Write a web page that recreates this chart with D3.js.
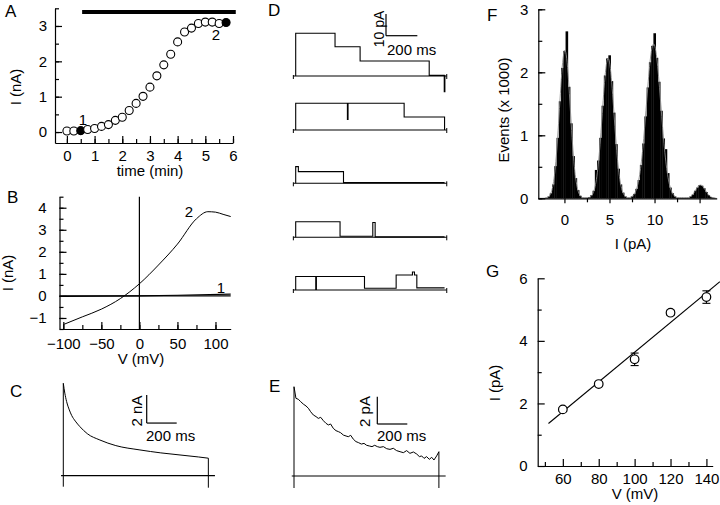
<!DOCTYPE html>
<html>
<head>
<meta charset="utf-8">
<script src="https://cdn.jsdelivr.net/npm/d3@7"></script>
<style>
  body { margin: 0; background: #fff; }
  text { font-family: "Liberation Sans", Arial, sans-serif; fill: #000; }
</style>
</head>
<body>
<script>
// ---- data ----
// A: current vs time during the run
const aTime = [0, 0.25, 0.5, 0.75, 1, 1.25, 1.5, 1.75, 2, 2.25, 2.5, 2.75, 3, 3.25, 3.5, 3.75, 4, 4.25, 4.5, 4.75, 5, 5.25, 5.5, 5.75];
const aCurrent = [0.03, 0.03, 0.04, 0.07, 0.10, 0.16, 0.21, 0.33, 0.42, 0.61, 0.81, 1.01, 1.27, 1.59, 1.90, 2.20, 2.55, 2.83, 2.94, 3.07, 3.11, 3.11, 3.07, 3.10];
const aFilled = [0.5, 5.75];
const aBar = [0.55, 6.1];

// B: I-V curves 1 and 2
const bV2 = [-100, -75, -50, -25, 0, 25, 50, 75, 90, 100, 110, 120];
const bI2 = [-1.3, -0.95, -0.6, -0.12, 0.55, 1.4, 2.35, 3.5, 3.82, 3.8, 3.7, 3.6];
const bV1 = [-100, 0, 50, 120];
const bI1 = [-0.02, 0.0, 0.03, 0.08];

// C: whole-cell current decay (ms, nA)
const cTime = [0, 10, 22, 40, 56, 80, 111, 160, 244, 350, 511, 650, 778, 900, 967];
const cCurrent = [6.6, 5.9, 5.3, 4.7, 4.3, 3.9, 3.5, 3.0, 2.55, 2.15, 1.84, 1.63, 1.48, 1.34, 1.25];

// D: single-channel sweeps (step times in ms, level in pA)
const dSweepTimes = [
  [0, 0, 251, 411, 852, 948, 952],
  [0, 0, 330, 334, 692, 950],
  [0, 0, 17, 305, 950],
  [0, 0, 283, 492, 507, 950],
  [0, 0, 128, 132, 439, 641, 745, 758, 773, 950]
];
const dSweepLevels = [
  [0, 19.7, 13.5, 6.9, 0.3, -7.2, 0.3],
  [0, 12.3, 4.9, 12.3, 6.0, 0],
  [0, 7.7, 5.4, 0.3, 0.3],
  [0, 7.2, 0.5, 6.8, 0.2, 0.2],
  [0, 6.2, 0.3, 6.2, 0.8, 6.9, 8.3, 6.9, 1.0, 1.0]
];

// E: ensemble average (ms, pA)
const eTime = [0, 13, 29, 44, 62, 80, 96, 111, 129, 147, 162, 178, 196, 213, 229, 244, 262, 280, 296, 311, 329, 347, 362, 378, 396, 413, 431, 449, 467, 484, 502, 520, 538, 556, 573, 596, 618, 640, 662, 684, 707, 729, 751, 773, 796, 818, 836, 851, 867, 884, 902, 918, 933, 951, 966];
const eCurrent = [6.54, 5.69, 5.62, 5.45, 5.27, 5.13, 4.96, 4.71, 4.47, 4.35, 4.22, 4.30, 4.05, 3.86, 3.74, 3.81, 3.49, 3.32, 3.25, 3.17, 3.00, 2.93, 2.88, 2.98, 2.69, 2.52, 2.44, 2.34, 2.39, 2.25, 2.20, 2.15, 2.25, 2.15, 2.10, 2.15, 2.00, 1.95, 2.03, 1.86, 1.78, 1.71, 1.86, 1.66, 1.76, 1.61, 1.42, 1.47, 1.29, 1.42, 1.22, 1.37, 1.17, 1.47, 1.78];

// F: amplitude histogram, 0.25 pA bins starting at -2 pA (events x 1000)
const fBinStart = -2;
const fBinWidth = 0.25;
const fCounts = [0.01, 0.03, 0.08, 0.22, 0.51, 0.96, 1.54, 2.07, 2.34, 2.65, 1.77, 1.19, 0.67, 0.32, 0.13, 0.04,
  0.01, 0.01, 0.01, 0.02, 0.05, 0.12, 0.45, 0.60, 0.96, 1.47, 1.95, 2.22, 2.27, 1.86, 1.36, 0.86, 0.47, 0.22, 0.09, 0.03,
  0.01, 0.01, 0.03, 0.07, 0.15, 0.29, 0.53, 0.87, 1.30, 1.76, 2.16, 2.42, 2.62, 2.23, 1.85, 1.39, 0.95, 0.78, 0.40, 0.17, 0.08, 0.03,
  0.01, 0.01, 0.01, 0.01, 0.01, 0.01, 0.03, 0.06, 0.12, 0.17, 0.21, 0.20, 0.16, 0.10, 0.05, 0.02, 0.01];
// Gaussian fit parameters
const fFitAmp = [2.35, 2.22, 2.45, 0.21];
const fFitMean = [0.05, 4.85, 9.9, 15.1];
const fFitSigma = [0.6, 0.65, 0.8, 0.55];

// G: unitary current vs voltage
const gV = [60, 80, 100, 120, 140];
const gI = [1.81, 2.62, 3.41, 4.9, 5.4];
const gErr = [0.05, 0.06, 0.2, 0.08, 0.2];
const gFitV = [52, 147.5];
const gFitI = [1.36, 5.89];

// ---- drawing ----
const svg = d3.select("body").append("svg")
  .attr("width", 720).attr("height", 505)
  .style("background", "#fff");

const TICK_FS = 15;
const fmt = d3.format("d");

function tidy(g) {
  g.attr("font-family", null).attr("font-size", null);
  g.selectAll("path, line").attr("stroke", "#000").attr("stroke-width", 1.2);
  g.selectAll("text").attr("font-size", TICK_FS);
}

function yAxis(x0, y, major, minor, pad) {
  const gm = svg.append("g").attr("transform", `translate(${x0},0)`)
    .call(d3.axisLeft(y).tickValues(minor).tickSizeInner(-4).tickSizeOuter(0).tickFormat(""));
  gm.select(".domain").remove();
  tidy(gm);
  const g = svg.append("g").attr("transform", `translate(${x0},0)`)
    .call(d3.axisLeft(y).tickValues(major).tickSizeInner(-7).tickSizeOuter(0).tickPadding(pad).tickFormat(fmt));
  tidy(g);
}

function xAxis(y0, x, major, minor, pad, inner) {
  const gm = svg.append("g").attr("transform", `translate(0,${y0})`)
    .call(d3.axisBottom(x).tickValues(minor).tickSizeInner(inner ? -4 : 4).tickSizeOuter(0).tickFormat(""));
  gm.select(".domain").remove();
  tidy(gm);
  const g = svg.append("g").attr("transform", `translate(0,${y0})`)
    .call(d3.axisBottom(x).tickValues(major).tickSizeInner(inner ? -7 : 5).tickSizeOuter(0).tickPadding(pad).tickFormat(fmt));
  tidy(g);
}

function label(x, y, txt, size, anchor, rot) {
  const t = svg.append("text").attr("font-size", size).attr("text-anchor", anchor || "middle").text(txt);
  if (rot) t.attr("transform", `translate(${x},${y}) rotate(-90)`);
  else t.attr("x", x).attr("y", y);
  return t;
}

function seg(x1, y1, x2, y2, w) {
  svg.append("line").attr("x1", x1).attr("y1", y1).attr("x2", x2).attr("y2", y2)
    .attr("stroke", "#000").attr("stroke-width", w || 1);
}

// panel letters
[["A", 5, 17], ["B", 7, 203], ["C", 10, 397], ["D", 268, 16], ["E", 269, 392], ["F", 487, 21], ["G", 486, 277]]
  .forEach(d => label(d[1], d[2], d[0], 17, "start"));

// ---------- A ----------
const ax = d3.scaleLinear().domain([-0.43, 6]).range([55, 233]);
const ay = d3.scaleLinear().domain([-0.31, 3.5]).range([143, 8.3]);
yAxis(55, ay, [0, 1, 2, 3], d3.range(0, 3.51, 0.5), 8);
xAxis(143, ax, [0, 1, 2, 3, 4, 5, 6], d3.range(0, 6.01, 0.5), 7, true);
label(21, 87, "I (nA)", 15, "middle", true);
label(150, 176, "time (min)", 15);
svg.append("rect")
  .attr("x", ax(aBar[0])).attr("width", ax(aBar[1]) - ax(aBar[0]))
  .attr("y", 10).attr("height", 4).attr("fill", "#000");
svg.append("g").selectAll("circle")
  .data(aTime.map((t, i) => [t, aCurrent[i]]))
  .enter().append("circle")
  .attr("cx", d => ax(d[0])).attr("cy", d => ay(d[1])).attr("r", 4)
  .attr("fill", d => aFilled.includes(d[0]) ? "#000" : "#fff")
  .attr("stroke", "#000").attr("stroke-width", 1.1);
label(83, 125, "1", 15);
label(216, 40, "2", 15);

// ---------- B ----------
const bx = d3.scaleLinear().domain([-105, 120]).range([59.5, 230.7]);
const by = d3.scaleLinear().domain([-1.5, 4.5]).range([329, 196.7]);
yAxis(59.5, by, [-1, 0, 1, 2, 3, 4], d3.range(-1.5, 4.51, 0.5), 13);
xAxis(329, bx, [-100, -50, 0, 50, 100], d3.range(-100, 101, 25), 9, true);
seg(bx(0), by(4.5), bx(0), by(-1.5), 1.2);
seg(bx(-105), by(0), bx(120), by(0), 1.2);
const bLine = d3.line().x(d => bx(d[0])).y(d => by(d[1])).curve(d3.curveMonotoneX);
svg.append("path").attr("d", bLine(bV2.map((v, i) => [v, bI2[i]])))
  .attr("fill", "none").attr("stroke", "#000").attr("stroke-width", 1);
svg.append("path").attr("d", bLine(bV1.map((v, i) => [v, bI1[i]])))
  .attr("fill", "none").attr("stroke", "#000").attr("stroke-width", 1.2);
label(13, 273, "I (nA)", 15, "middle", true);
label(141, 364, "V (mV)", 15);
label(189, 217, "2", 15);
label(221, 293, "1", 15);

// ---------- C ----------
const cx = d3.scaleLinear().domain([0, 1000]).range([63.3, 213.3]);
const cy = d3.scaleLinear().domain([0, 7]).range([475.7, 377.7]);
seg(cx(-15), cy(0), cx(1011), cy(0), 1.2);
svg.append("path")
  .attr("d", d3.line().x(d => cx(d[0])).y(d => cy(d[1])).curve(d3.curveMonotoneX)(cTime.map((t, i) => [t, cCurrent[i]])))
  .attr("fill", "none").attr("stroke", "#000").attr("stroke-width", 1);
seg(cx(0), cy(0) + 11, cx(0), cy(cCurrent[0]), 1);
seg(cx(cTime[cTime.length - 1]), cy(cCurrent[cCurrent.length - 1]), cx(cTime[cTime.length - 1]), cy(0) + 12, 1);
// scale bar 2 nA / 200 ms
seg(cx(556), cy(5.76), cx(556), cy(3.76), 1.2);
seg(cx(556), cy(3.76), cx(756), cy(3.76), 1.2);
label(141.5, 411, "2 nA", 15, "middle", true);
label(146, 441, "200 ms", 15, "start");

// ---------- D ----------
const dx = d3.scaleLinear().domain([0, 1000]).range([295.7, 452.4]);
const dBase = [76, 130, 183.3, 237.3, 290];
const dPxPerPA = 2.17;
dSweepTimes.forEach((times, k) => {
  const yk = v => dBase[k] - v * dPxPerPA;
  seg(dx(-15), dBase[k], dx(964), dBase[k], 1.1);
  seg(dx(-15), dBase[k] - 1, dx(-15), dBase[k] + 3, 1);
  seg(dx(964), dBase[k] - 2, dx(964), dBase[k] + 3, 1);
  svg.append("path")
    .attr("d", d3.line().x(d => dx(d[0])).y(d => yk(d[1])).curve(d3.curveStepAfter)(times.map((t, i) => [t, dSweepLevels[k][i]])))
    .attr("fill", "none").attr("stroke", "#000").attr("stroke-width", 1.1);
});
// scale bar 10 pA / 200 ms
seg(386, 35.7 - 10 * dPxPerPA, 386, 35.7, 1.2);
seg(386, 35.7, 386 + dx(200) - dx(0), 35.7, 1.2);
label(384, 29, "10 pA", 14, "middle", true);
label(387, 55, "200 ms", 15, "start");

// ---------- E ----------
const ex = d3.scaleLinear().domain([0, 1000]).range([294, 444]);
const ey = d3.scaleLinear().domain([0, 7]).range([476, 380.45]);
seg(ex(-15), ey(0), ex(1011), ey(0), 1.2);
svg.append("path")
  .attr("d", d3.line().x(d => ex(d[0])).y(d => ey(d[1]))(eTime.map((t, i) => [t, eCurrent[i]])))
  .attr("fill", "none").attr("stroke", "#000").attr("stroke-width", 1);
seg(ex(0), ey(0) + 12, ex(0), ey(eCurrent[0]), 1);
seg(ex(eTime[eTime.length - 1]), ey(eCurrent[eCurrent.length - 1]), ex(eTime[eTime.length - 1]), ey(0) + 12, 1);
// scale bar 2 pA / 200 ms
seg(377.3, 424 - (ey(0) - ey(2)), 377.3, 424, 1.2);
seg(377.3, 424, 377.3 + ex(200) - ex(0), 424, 1.2);
label(370, 411.5, "2 pA", 15, "middle", true);
label(377, 441, "200 ms", 15, "start");

// ---------- F ----------
const fx = d3.scaleLinear().domain([-2.9, 16.9]).range([538.3, 716.7]);
const fy = d3.scaleLinear().domain([0, 3]).range([198.3, 9.3]);
svg.append("g").selectAll("rect")
  .data(fCounts.map((c, i) => [fBinStart + i * fBinWidth, c]))
  .enter().append("rect")
  .attr("x", d => fx(d[0] - fBinWidth / 2))
  .attr("width", fx(fBinWidth) - fx(0) + 0.35)
  .attr("y", d => fy(d[1]))
  .attr("height", d => fy(0) - fy(d[1]))
  .attr("fill", "#000");
const fFitX = d3.range(-2.9, 16.9, 0.05);
svg.append("path")
  .attr("d", d3.line().x(d => fx(d)).y(d => fy(d3.sum(fFitAmp, (a, j) => a * Math.exp(-0.5 * Math.pow((d - fFitMean[j]) / fFitSigma[j], 2)))))(fFitX))
  .attr("fill", "none").attr("stroke", "#8a8a8a").attr("stroke-width", 0.9);
yAxis(538.3, fy, [0, 1, 2, 3], d3.range(0, 3.01, 0.5), 10);
xAxis(198.3, fx, [0, 5, 10, 15], [2.5, 7.5, 12.5], 11, false);
label(509, 110, "Events (x 1000)", 15, "middle", true);
label(633, 249, "I (pA)", 15);

// ---------- G ----------
const gx = d3.scaleLinear().domain([46, 143.5]).range([537.7, 712.7]);
const gy = d3.scaleLinear().domain([0, 6]).range([466, 278.3]);
yAxis(537.7, gy, [0, 2, 4, 6], [1, 3, 5], 10);
xAxis(466, gx, [60, 80, 100, 120, 140], [50, 70, 90, 110, 130], 7, true);
svg.append("path")
  .attr("d", d3.line().x(d => gx(d[0])).y(d => gy(d[1]))(gFitV.map((v, i) => [v, gFitI[i]])))
  .attr("stroke", "#000").attr("stroke-width", 1.1);
gV.forEach((v, i) => {
  seg(gx(v), gy(gI[i] - gErr[i]), gx(v), gy(gI[i] + gErr[i]), 1.1);
  seg(gx(v) - 4, gy(gI[i] - gErr[i]), gx(v) + 4, gy(gI[i] - gErr[i]), 1.1);
  seg(gx(v) - 4, gy(gI[i] + gErr[i]), gx(v) + 4, gy(gI[i] + gErr[i]), 1.1);
});
svg.append("g").selectAll("circle")
  .data(gV.map((v, i) => [v, gI[i]]))
  .enter().append("circle")
  .attr("cx", d => gx(d[0])).attr("cy", d => gy(d[1])).attr("r", 4.3)
  .attr("fill", "#fff").attr("stroke", "#000").attr("stroke-width", 1.2);
label(500, 383, "I (pA)", 15, "middle", true);
label(635, 499, "V (mV)", 15);
</script>
</body>
</html>
